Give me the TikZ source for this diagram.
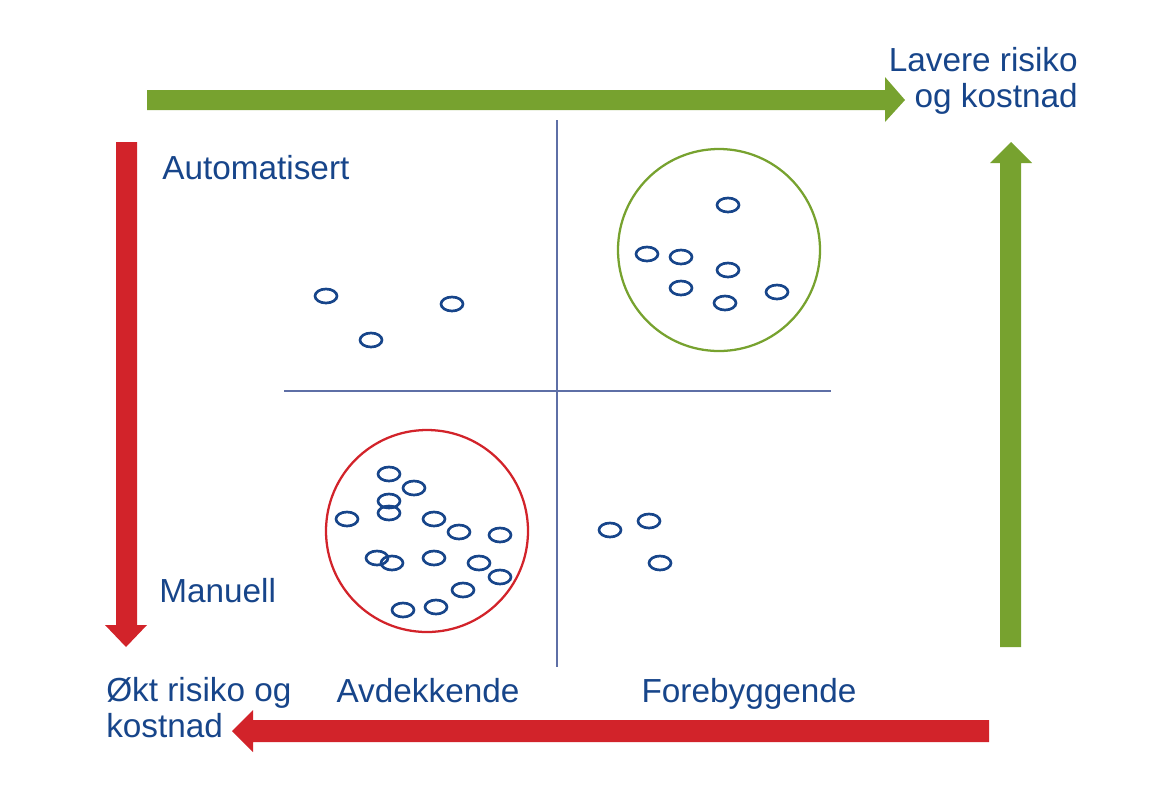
\documentclass[tikz,border=0pt]{standalone}
\usepackage{fontspec}
\setmainfont{Liberation Sans}
\usepackage{tikz}

\definecolor{txtblue}{HTML}{17458A}
\definecolor{arrgreen}{HTML}{77A22F}
\definecolor{arrred}{HTML}{D2232A}
\definecolor{linblue}{HTML}{5E6FA6}

\tikzset{
  lbl/.style={text=txtblue,inner sep=0pt,font=\fontsize{25}{26.3}\selectfont},
  dot/.style={draw=txtblue,line width=2pt},
  quad/.style={draw=linblue,line width=1.2pt}
}

\begin{document}
\begin{tikzpicture}[x=0.75pt,y=-0.75pt]
\useasboundingbox (0,0) rectangle (1150,808);
% block arrows
\fill[arrgreen] (147,90) -- (885,90) -- (885,77) -- (905,100) -- (885,122) -- (885,110) -- (147,110) -- cycle;
\fill[arrgreen] (1000,647) -- (1000,163) -- (990,163) -- (1011,142) -- (1032,163) -- (1021,163) -- (1021,647) -- cycle;
\fill[arrred] (116,142) -- (137,142) -- (137,625) -- (147,625) -- (126,647) -- (105,625) -- (116,625) -- cycle;
\fill[arrred] (989,720) -- (253,720) -- (253,710) -- (232,731) -- (253,752) -- (253,742) -- (989,742) -- cycle;
% quadrants
\draw[quad] (557,120) -- (557,667);
\draw[quad] (284,391) -- (831,391);
\draw[draw=arrgreen,line width=1.7pt] (719,250) circle (101);
\draw[draw=arrred,line width=1.7pt] (427,531) circle (101);
% small rings
\foreach \p in {(326,296),(452,304),(371,340),
  (728,205),(647,254),(681,257),(728,270),(681,288),(725,303),(777,292),
  (389,474),(414,488),(389,501),(389,513),(347,519),(434,519),(459,532),(500,535),
  (377,558),(392,563),(434,558),(479,563),(500,577),(463,590),(403,610),(436,607),
  (610,530),(649,521),(660,563)}
  \draw[dot] \p ellipse (11 and 7);
% labels
\node[lbl,anchor=base west] (auto) at (162,179) {Automatisert};
\node[lbl,anchor=base west] (man) at (159,602) {Manuell};
\node[lbl,anchor=base east,align=right] (low) at (1078,107) {Lavere risiko\\og kostnad};
\node[lbl,anchor=base west,align=left] (high) at (106,737) {Økt risiko og\\kostnad};
\node[lbl,anchor=base] (avd) at (428,702) {Avdekkende};
\node[lbl,anchor=base] (fore) at (749,702) {Forebyggende};
\end{tikzpicture}
\end{document}
